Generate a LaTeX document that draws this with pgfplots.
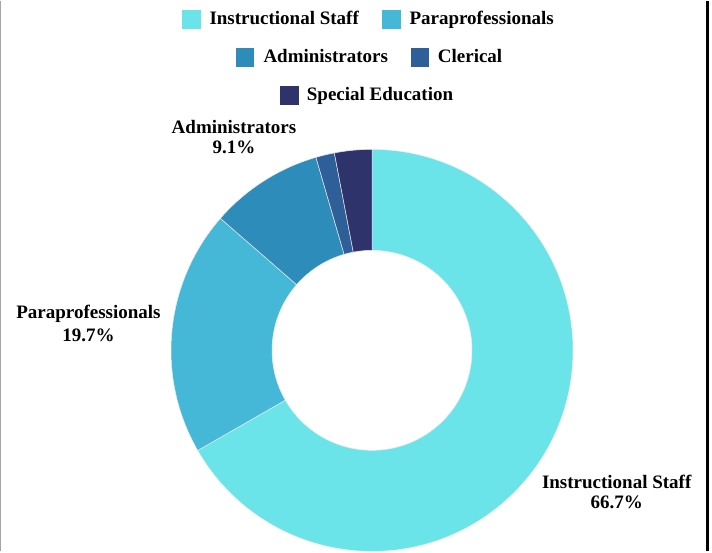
\documentclass[border=0pt]{standalone}
\usepackage{pgfplots}
\usepackage{pgfplotstable}
\pgfplotsset{compat=1.18}
\usepackage{fontspec}
\setmainfont{Liberation Serif}

\definecolor{cInst}{HTML}{6AE4E9}
\definecolor{cPara}{HTML}{44B8D6}
\definecolor{cAdm}{HTML}{2E8CBA}
\definecolor{cCler}{HTML}{2E5F99}
\definecolor{cSpec}{HTML}{2F336B}

% share of staff, in percent (clockwise from 12 o'clock)
\pgfplotstableread{
label value color
{Instructional Staff} 66.7 cInst
Paraprofessionals 19.7 cPara
Administrators 9.1 cAdm
Clerical 1.5 cCler
{Special Education} 3.0 cSpec
}\slices

\begin{document}
\begin{tikzpicture}[font=\bfseries\fontsize{19}{22}\selectfont]
\begin{axis}[
	hide axis,
	scale only axis,
	x=1pt, y=1pt,
	xmin=0, xmax=712, ymin=0, ymax=550,
	clip=false,
	]
	\path (axis cs:0,0) rectangle (axis cs:712,550);
	% frame edges
	\draw[gray!70, line width=1pt] (axis cs:0.5,0) -- (axis cs:0.5,550);
	\draw[black, line width=2.7pt] (axis cs:707.5,0) -- (axis cs:707.5,550);

	% donut slices
	\gdef\angstart{90}
	\pgfplotstablegetrowsof{\slices}
	\pgfmathtruncatemacro\lastrow{\pgfplotsretval-1}
	\foreach \i in {0,...,\lastrow}{
		\pgfplotstablegetelem{\i}{value}\of\slices \let\val\pgfplotsretval
		\pgfplotstablegetelem{\i}{color}\of\slices \let\col\pgfplotsretval
		\pgfmathsetmacro\aA{\angstart}
		\pgfmathsetmacro\aB{\angstart-3.6*\val}
		\pgfmathsetmacro\xo{372+201*cos(\aA)}
		\pgfmathsetmacro\yo{201+201*sin(\aA)}
		\pgfmathsetmacro\xi{372+100*cos(\aB)}
		\pgfmathsetmacro\yi{201+100*sin(\aB)}
		\edef\temp{\noexpand\fill[\col, draw=white!85!gray, line width=0.5pt]
			(axis cs:\xo,\yo) arc[start angle=\aA, end angle=\aB, radius=201pt]
			-- (axis cs:\xi,\yi) arc[start angle=\aB, end angle=\aA, radius=100pt] -- cycle;}
		\temp
		\global\let\angstart\aB
	}

	% slice labels
	\node[anchor=base] at (axis cs:616.7,63) {Instructional Staff};
	\node[anchor=base] at (axis cs:616.7,43) {66.7\%};
	\node[anchor=base] at (axis cs:88.5,233.3) {Paraprofessionals};
	\node[anchor=base] at (axis cs:88.5,210) {19.7\%};
	\node[anchor=base] at (axis cs:234,418.3) {Administrators};
	\node[anchor=base] at (axis cs:234,398.3) {9.1\%};

	% legend
	\fill[cInst] (axis cs:181.7,522.7) rectangle (axis cs:200.5,541);
	\node[anchor=base west, inner sep=0pt] at (axis cs:209.3,526.7) {Instructional Staff};
	\fill[cPara] (axis cs:382.3,522.7) rectangle (axis cs:401,541);
	\node[anchor=base west, inner sep=0pt] at (axis cs:409.3,526.7) {Paraprofessionals};
	\fill[cAdm] (axis cs:235.7,484.7) rectangle (axis cs:254.3,503.3);
	\node[anchor=base west, inner sep=0pt] at (axis cs:263.3,489) {Administrators};
	\fill[cCler] (axis cs:410.7,484.7) rectangle (axis cs:429.3,503.3);
	\node[anchor=base west, inner sep=0pt] at (axis cs:437.7,489) {Clerical};
	\fill[cSpec] (axis cs:280,446.7) rectangle (axis cs:299,465);
	\node[anchor=base west, inner sep=0pt] at (axis cs:306.7,450.7) {Special Education};
\end{axis}
\end{tikzpicture}
\end{document}
